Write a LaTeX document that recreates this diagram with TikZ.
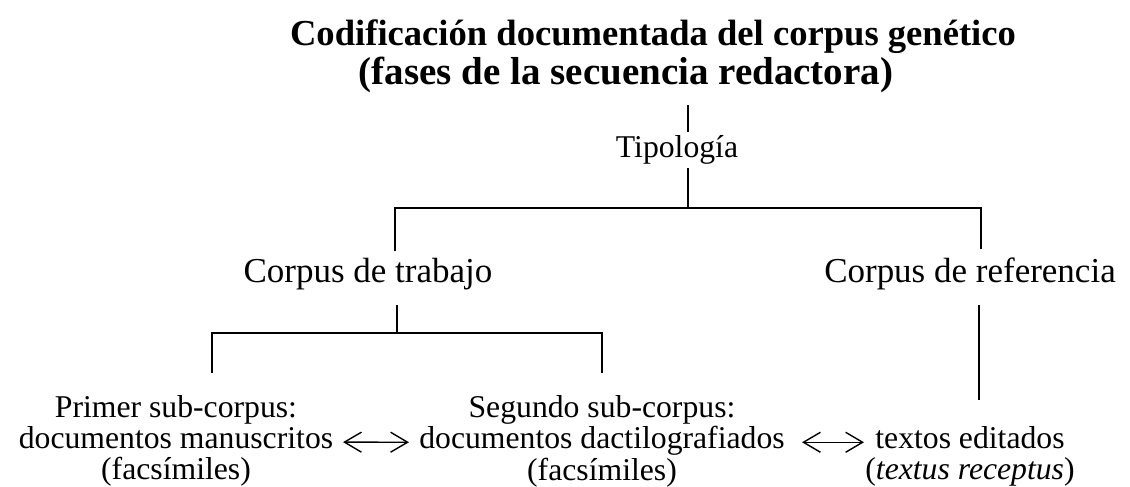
\documentclass[tikz,border=0pt]{standalone}
\usepackage{fontspec}
\setmainfont{Liberation Serif}
\usetikzlibrary{arrows.meta}
\begin{document}
\begin{tikzpicture}[x=0.5pt,y=-0.5pt,
  conn/.style={line width=1pt},
  arr/.style={line width=0.7pt,{Straight Barb[length=8.5pt,width=10pt]}-{Straight Barb[length=8.5pt,width=10pt]}},
  ttl/.style={inner sep=0pt,anchor=base,font=\fontsize{18.3}{20}\selectfont\bfseries},
  stl/.style={inner sep=0pt,anchor=base,font=\fontsize{19.5}{22}\selectfont\bfseries},
  mid/.style={inner sep=0pt,anchor=base,font=\fontsize{17.5}{20}\selectfont},
  low/.style={inner sep=0pt,anchor=base,font=\fontsize{15.85}{15.5}\selectfont}]
\useasboundingbox (0,0) rectangle (1130,487);
\node[ttl] (title) at (653,46) {Codificación documentada del corpus genético};
\node[stl] (sub) at (626,84) {(fases de la secuencia redactora)};
\node[low] (tip) at (677,157) {Tipología};
\node[mid] (trab) at (368,282) {Corpus de trabajo};
\node[mid] (ref) at (970,282) {Corpus de referencia};
\node[low] (pm) at (176,417) {\begin{tabular}[t]{@{}c@{}}Primer sub-corpus:\\documentos manuscritos\\(facsímiles)\end{tabular}};
\node[low] (sd) at (602,417) {\begin{tabular}[t]{@{}c@{}}Segundo sub-corpus:\\documentos dactilografiados\\(facsímiles)\end{tabular}};
\node[low] (te) at (970,448) {\begin{tabular}[t]{@{}c@{}}textos editados\\(\textit{textus receptus})\end{tabular}};
% junction coordinates
\coordinate (t0) at (688,105);
\coordinate (t1) at (688,132);
\coordinate (t2) at (688,168);
\coordinate (j1) at (688,208);
\coordinate (jl) at (395,208);
\coordinate (jr) at (981,208);
\coordinate (jl2) at (395,251);
\coordinate (jr2) at (981,249);
\coordinate (c0) at (397,305);
\coordinate (c1) at (397,333);
\coordinate (cl) at (212,333);
\coordinate (cr) at (602,333);
\coordinate (cl2) at (212,373);
\coordinate (cr2) at (602,373);
\coordinate (r0) at (979,305);
\coordinate (r1) at (979,400);
\draw[conn] (t0) -- (t1);
\draw[conn] (t2) -- (j1);
\draw[conn] (jl2) -- (jl) -- (jr) -- (jr2);
\draw[conn] (c0) -- (c1);
\draw[conn] (cl2) -- (cl) -- (cr) -- (cr2);
\draw[conn] (r0) -- (r1);
\draw[arr,shorten <=4.75pt,shorten >=5pt] (pm.east) -- (sd.west);
\draw[arr,shorten <=8.5pt,shorten >=0.5pt] (sd.east) -- (sd.east -| te.west);
\end{tikzpicture}
\end{document}
